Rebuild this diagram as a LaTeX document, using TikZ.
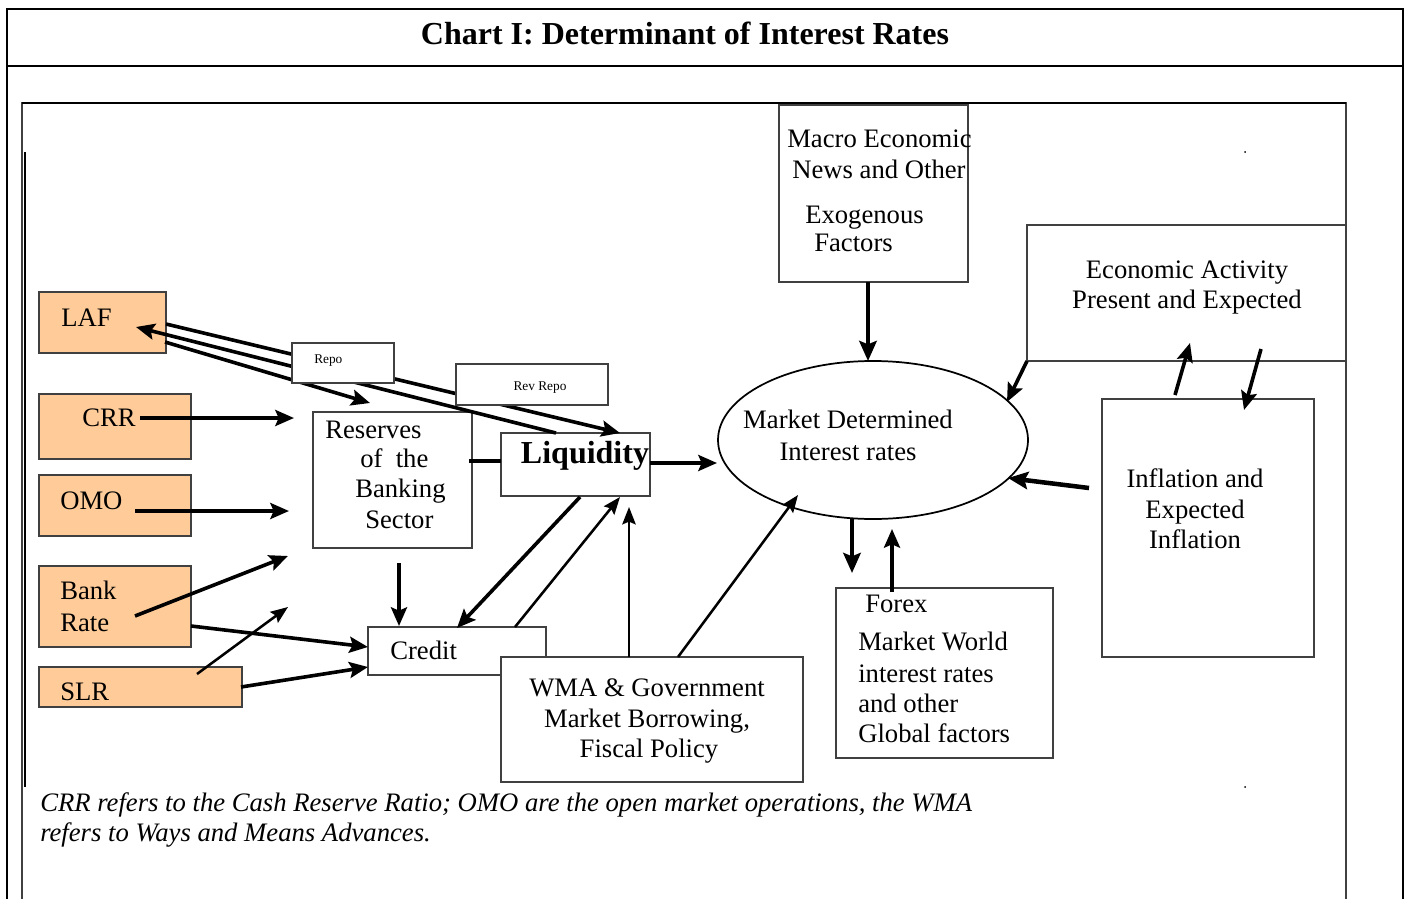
\documentclass[tikz,border=0pt]{standalone}
\usepackage{fontspec}
\setmainfont{Liberation Serif}
\usetikzlibrary{arrows.meta,fit,shapes.geometric}
\definecolor{orng}{HTML}{FFCC99}
\definecolor{bline}{HTML}{404040}
\begin{document}
\begin{tikzpicture}[x=0.75pt,y=-0.75pt,
  box/.style={draw=bline, line width=0.8pt, fill=white, inner sep=0pt},
  obox/.style={box, fill=orng},
  txt/.style={font=\fontsize{20}{24}\selectfont, inner sep=0pt, anchor=base west},
  ctxt/.style={txt, anchor=base},
  small/.style={font=\fontsize{10}{12}\selectfont, inner sep=0pt, anchor=base west},
  arr/.style={line width=2.7pt, -{Stealth[length=14pt,width=12pt,inset=2.5pt]}},
  bigarr/.style={line width=3.4pt, -{Stealth[length=15pt,width=13pt,inset=2.5pt]}},
  tarr/.style={line width=1.9pt, -{Stealth[length=13pt,width=10pt,inset=2pt]}},
  link/.style={line width=2.7pt}
  ]
\useasboundingbox (0,0) rectangle (1410,899);
% frames
\draw[line width=2.2pt] (7,899) -- (7,9) -- (1403,9) -- (1403,899);
\draw[line width=2.2pt] (7,66) -- (1403,66);
\draw[line width=0.8pt, draw=bline] (22,899) -- (22,103) -- (1346,103) -- (1346,899);
\draw[line width=1.4pt] (22,103) -- (1346,103);
\draw[line width=1.8pt] (25,152) -- (25,787);
\fill (1245,152) circle [radius=1];
\fill (1245,787) circle [radius=1];
\node[font=\bfseries\fontsize{24}{28}\selectfont, anchor=base, inner sep=0pt] (title) at (685,45) {Chart I: Determinant of Interest Rates};

% boxes
\node[obox, fit={(39,292)(166,353)}] (laf) {};
\node[obox, fit={(39,394)(191,459)}] (crr) {};
\node[obox, fit={(39,475)(191,536)}] (omo) {};
\node[obox, fit={(39,566)(191,647)}] (bank) {};
\node[obox, fit={(39,667)(242,707)}] (slr) {};
\node[box, fit={(313,412)(472,548)}] (res) {};
\node[box, fit={(501,433)(650,496)}] (liq) {};
\node[box, fit={(779,105)(968,282)}] (macro) {};
\node[box, fit={(1027,225)(1346,361)}] (econ) {};
\node[box, fit={(1102,399)(1314,657)}] (infl) {};
\node[box, fit={(836,588)(1053,758)}] (forex) {};
\node[box, fit={(368,627)(546,675)}] (credit) {};
\node[draw, line width=1.3pt, ellipse, inner sep=0pt, minimum width=232.5pt, minimum height=118.5pt] (ell) at (873,440) {};

% LAF connectors (behind Repo boxes)
\coordinate (lafA) at (166,324); \coordinate (liqA) at (620,433);
\coordinate (lafB) at (136,327); \coordinate (liqB) at (556,433);
\coordinate (lafC) at (165,342); \coordinate (resA) at (370,403);
\draw[arr] (lafA) -- (liqA);
\draw[arr] (liqB) -- (lafB);
\draw[arr] (lafC) -- (resA);
\node[box, fit={(292,343)(394,383)}] (repo) {};
\node[box, fit={(456,364)(608,405)}] (revrepo) {};
\node[box, fit={(501,657)(803,782)}] (wma) {};

% texts
\node[txt] (tLAF) at (61,326) {LAF};
\node[txt] (tCRR) at (82,426) {CRR};
\node[txt] (tOMO) at (60,509) {OMO};
\node[txt] (tBank) at (60,599) {Bank};
\node[txt] (tRate) at (60,631) {Rate};
\node[txt] (tSLR) at (60,700) {SLR};
\node[small] (tRepo) at (314,363) {Repo};
\node[small, anchor=base] (tRev) at (540,390) {Rev Repo};
\node[txt] (tRes1) at (325,438) {Reserves};
\node[txt] (tRes2) at (360,467) {of\ \ the};
\node[txt] (tRes3) at (355,497) {Banking};
\node[txt] (tRes4) at (365,528) {Sector};
\node[font=\bfseries\fontsize{24}{28}\selectfont, inner sep=0pt, anchor=base] (tLiq) at (585,463) {Liquidity};
\node[txt] (tCredit) at (390,659) {Credit};
\node[ctxt] (tW1) at (647,696) {WMA \& Government};
\node[ctxt] (tW2) at (647,727) {Market Borrowing,};
\node[ctxt] (tW3) at (649,757) {Fiscal Policy};
\node[txt] (tM1) at (787,147) {Macro Economic};
\node[txt] (tM2) at (792,178) {News and Other};
\node[txt] (tM3) at (805,223) {Exogenous};
\node[txt] (tM4) at (814,251) {Factors};
\node[ctxt] (tE1) at (848,428) {Market Determined};
\node[ctxt] (tE2) at (848,460) {Interest rates};
\node[ctxt] (tA1) at (1187,278) {Economic Activity};
\node[ctxt] (tA2) at (1187,308) {Present and Expected};
\node[ctxt] (tI1) at (1195,487) {Inflation and};
\node[ctxt] (tI2) at (1195,518) {Expected};
\node[ctxt] (tI3) at (1195,548) {Inflation};
\node[txt] (tF1) at (865,612) {Forex};
\node[txt] (tF2) at (858,650) {Market World};
\node[txt] (tF3) at (858,682) {interest rates};
\node[txt] (tF4) at (858,712) {and other};
\node[txt] (tF5) at (858,742) {Global factors};
\node[txt, font=\itshape\fontsize{20}{24}\selectfont] (note1) at (40,811) {CRR refers to the Cash Reserve Ratio; OMO are the open market operations, the WMA};
\node[txt, font=\itshape\fontsize{20}{24}\selectfont] (note2) at (40,841) {refers to Ways and Means Advances.};

% connector coordinates
\coordinate (crrS) at (140,418); \coordinate (crrE) at (294,418);
\coordinate (omoS) at (135,511); \coordinate (omoE) at (289,511);
\coordinate (bankS) at (135,616); \coordinate (bankE) at (288,556);
\coordinate (slrS) at (197,674); \coordinate (slrE) at (288,607);
\coordinate (bankC) at (191,626); \coordinate (credW1) at (368,647);
\coordinate (slrC) at (241,687); \coordinate (credW2) at (368,667);
\coordinate (resS) at (399,563); \coordinate (credN) at (399,626);
\coordinate (resE) at (469,461); \coordinate (liqW) at (501,461);
\coordinate (liqE) at (650,463); \coordinate (ellW) at (717,463);
\coordinate (liqS1) at (580,497); \coordinate (credN1) at (457,628);
\coordinate (credN2) at (515,627); \coordinate (liqS2) at (620,497);
\coordinate (wmaN1) at (629,657); \coordinate (liqS3) at (629,507);
\coordinate (wmaN2) at (678,657); \coordinate (ellS1) at (798,495);
\coordinate (macS) at (868,282); \coordinate (ellN) at (868,361);
\coordinate (ecoSW) at (1027,361); \coordinate (ellNE) at (1007,402);
\coordinate (infW) at (1089,488); \coordinate (ellE) at (1008,478);
\coordinate (infN) at (1175,395); \coordinate (ecoS) at (1190,343);
\coordinate (ecoS2) at (1261,349); \coordinate (infN2) at (1244,410);
\coordinate (ellS2) at (852,519); \coordinate (fxE) at (852,573);
\coordinate (fxN) at (892,592); \coordinate (ellS3) at (892,529);

% connectors
\draw[arr] (crrS) -- (crrE);
\draw[arr] (omoS) -- (omoE);
\draw[arr] (bankS) -- (bankE);
\draw[tarr] (slrS) -- (slrE);
\draw[arr] (bankC) -- (credW1);
\draw[arr] (slrC) -- (credW2);
\draw[arr] (resS) -- (credN);
\draw[link] (resE) -- (liqW);
\draw[arr] (liqE) -- (ellW);
\draw[arr] (liqS1) -- (credN1);
\draw[tarr] (credN2) -- (liqS2);
\draw[tarr] (wmaN1) -- (liqS3);
\draw[tarr] (wmaN2) -- (ellS1);
\draw[bigarr] (macS) -- (ellN);
\draw[arr] (ecoSW) -- (ellNE);
\draw[bigarr] (infW) -- (ellE);
\draw[arr] (infN) -- (ecoS);
\draw[arr] (ecoS2) -- (infN2);
\draw[bigarr] (ellS2) -- (fxE);
\draw[arr] (fxN) -- (ellS3);
\end{tikzpicture}
\end{document}
